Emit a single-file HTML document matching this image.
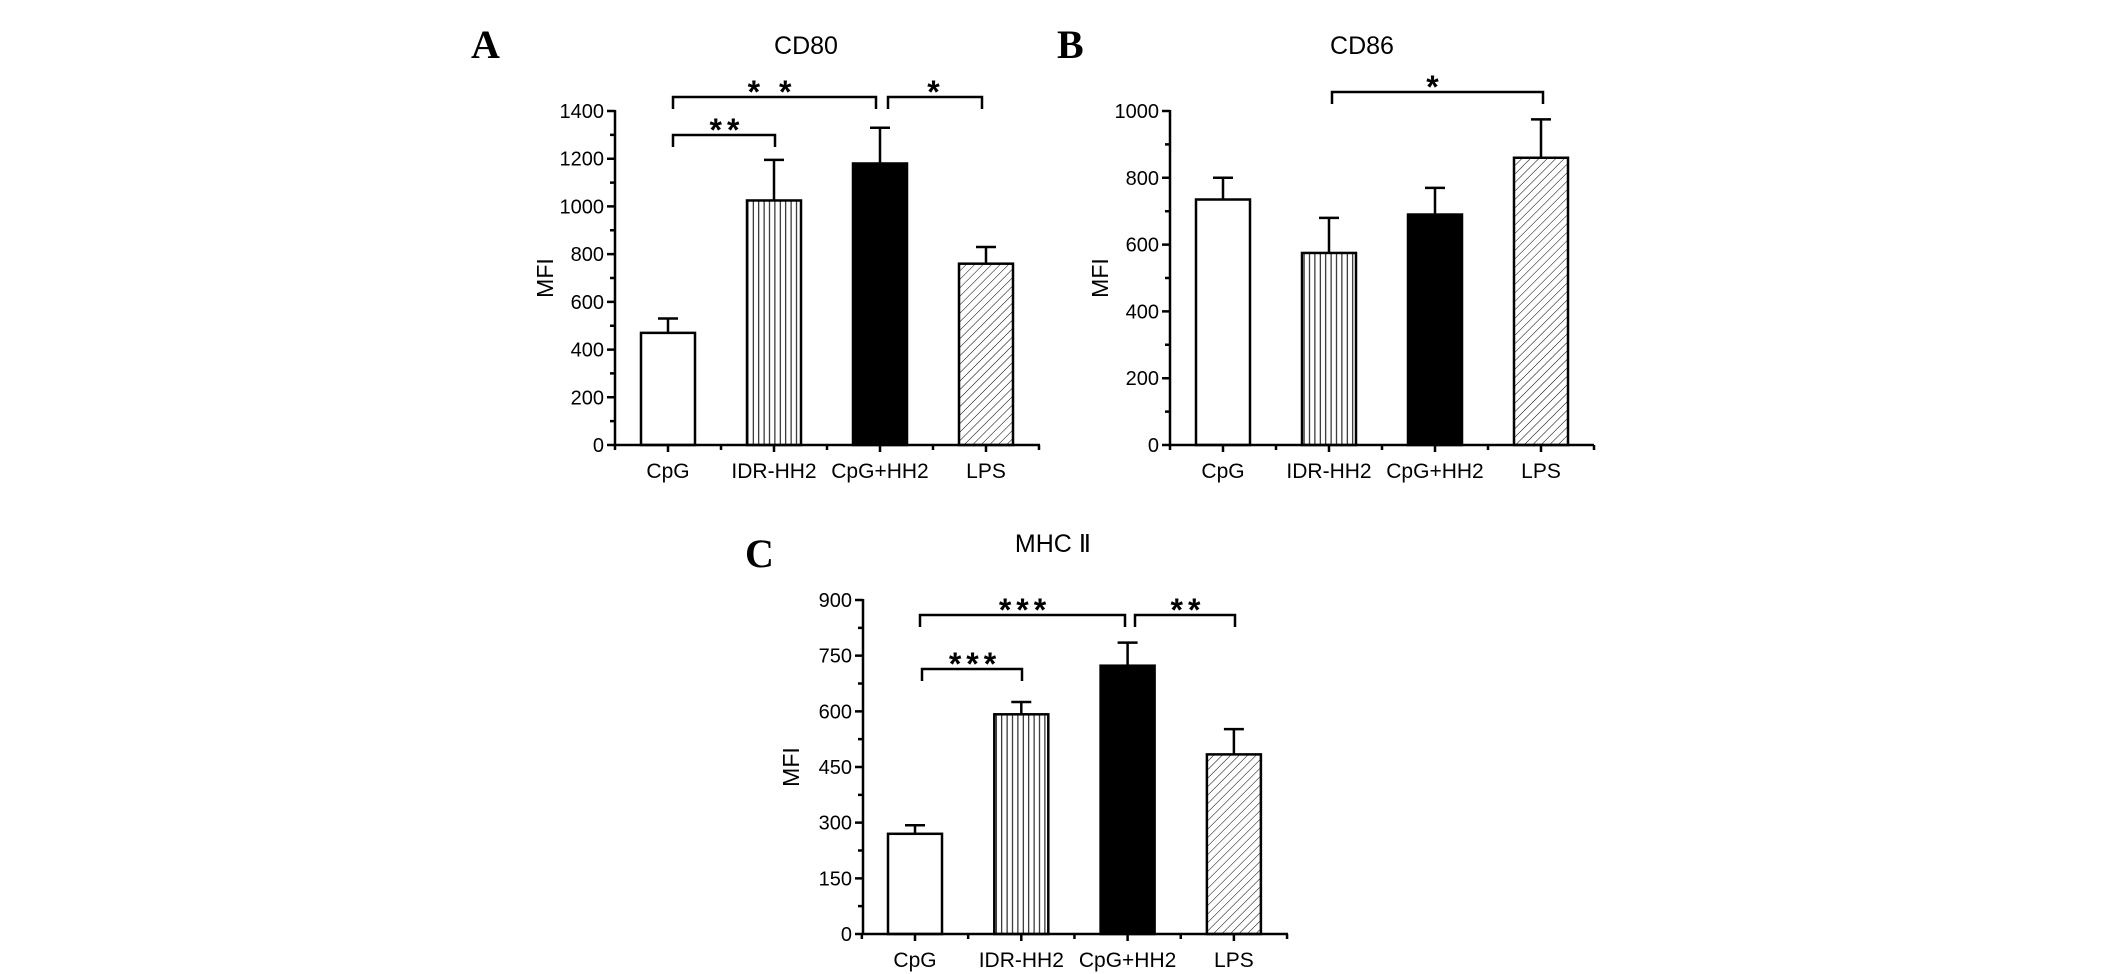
<!DOCTYPE html>
<html><head><meta charset="utf-8"><style>
html,body{margin:0;padding:0;background:#fff;}
svg{display:block;font-family:"Liberation Sans",Arial,sans-serif;}
</style></head><body>
<svg id="fig" width="2126" height="974" viewBox="0 0 2126 974" xmlns="http://www.w3.org/2000/svg">
<defs>
<pattern id="vert" patternUnits="userSpaceOnUse" width="5.4" height="10"><line x1="2.7" y1="0" x2="2.7" y2="10" stroke="#000" stroke-width="1"/></pattern>
<pattern id="diag" patternUnits="userSpaceOnUse" width="6" height="6" patternTransform="rotate(45)"><line x1="0" y1="0" x2="0" y2="6" stroke="#000" stroke-width="1"/></pattern>
</defs>
<text x="471" y="58" font-family="Liberation Serif,serif" font-weight="bold" font-size="40">A</text>
<text x="1057" y="58" font-family="Liberation Serif,serif" font-weight="bold" font-size="40">B</text>
<text x="745" y="567" font-family="Liberation Serif,serif" font-weight="bold" font-size="40">C</text>
</svg>
<script>
const categories = ["CpG","IDR-HH2","CpG+HH2","LPS"];
const cd80Values = [470, 1025, 1180, 760];
const cd80Errors = [530, 1195, 1330, 830];
const cd80Ticks = [0,200,400,600,800,1000,1200,1400];
const cd86Values = [735, 575, 690, 860];
const cd86Errors = [800, 680, 770, 975];
const cd86Ticks = [0,200,400,600,800,1000];
const mhcValues = [270, 592, 723, 484];
const mhcErrors = [293, 625, 785, 552];
const mhcTicks = [0,150,300,450,600,750,900];
const cd80Sig = [{a:0,b:1,s:"**"},{a:0,b:2,s:"* *"},{a:2,b:3,s:"*"}];
const cd86Sig = [{a:1,b:3,s:"*"}];
const mhcSig = [{a:0,b:1,s:"***"},{a:0,b:2,s:"***"},{a:2,b:3,s:"**"}];

const NS = "http://www.w3.org/2000/svg";
const svg = document.getElementById('fig');
const fills = ["#fff","url(#vert)","#000","url(#diag)"];
function mk(tag, attrs, parent){
  const e = document.createElementNS(NS, tag);
  for (const k in attrs) e.setAttribute(k, attrs[k]);
  (parent||svg).appendChild(e); return e;
}
function panel(cfg){
  const g = mk('g', {});
  
  
  const yMax = cfg.ticks[cfg.ticks.length-1];
  const y = v => cfg.y0 - (v / yMax) * (cfg.y0 - cfg.yTop);
  const x = i => cfg.c0 + i * cfg.step;
  const t = mk('text', {x: cfg.titleX, y: cfg.titleY, 'font-size': 25, 'text-anchor': 'middle'}, g);
  t.textContent = cfg.title;
  
  
  const yl = mk('text', {x: cfg.mfiX, y: (cfg.y0+cfg.yTop)/2, 'font-size': 23, 'text-anchor': 'middle', transform: `rotate(-90 ${cfg.mfiX} ${(cfg.y0+cfg.yTop)/2})`}, g);
  yl.textContent = 'MFI';
  
  
  categories.forEach((c, i) => {
    const cx = x(i), top = y(cfg.values[i]), et = y(cfg.errors[i]);
    const eb = mk('path', {d: `M${cx} ${top} V${et} M${cx-10} ${et} H${cx+10}`, stroke: '#000', 'stroke-width': 2.5, fill: 'none'}, g);
    
    
    const r = mk('rect', {x: cx-27, y: top, width: 54, height: cfg.y0-top, fill: fills[i], stroke: '#000', 'stroke-width': 2.5}, g);
    
    
    const lb = mk('text', {x: cx, y: cfg.y0 + 33, 'font-size': 21, 'text-anchor': 'middle'}, g);
    lb.textContent = c;
    
    
  });
  let d = `M${cfg.ax} ${cfg.yTop-1} V${cfg.y0} H${cfg.xEnd}`;
  cfg.ticks.forEach((v, k) => {
    d += ` M${cfg.ax-8} ${y(v)} H${cfg.ax}`;
    if (k < cfg.ticks.length-1) d += ` M${cfg.ax-5} ${(y(v)+y(cfg.ticks[k+1]))/2} H${cfg.ax}`;
    const tl = mk('text', {x: cfg.ax-11, y: y(v)+7, 'font-size': 20, 'text-anchor': 'end'}, g);
    tl.textContent = v;
    
    
  });
  for (let i = 0; i < categories.length; i++) {
    d += ` M${x(i)} ${cfg.y0} V${cfg.y0+7}`;
    d += ` M${x(i)+cfg.step/2} ${cfg.y0} V${cfg.y0+5}`;
  }
  d += ` M${x(0)-cfg.step/2} ${cfg.y0} V${cfg.y0+5}`;
  const ax = mk('path', {d, stroke: '#000', 'stroke-width': 2.5, fill: 'none'}, g);
  
  
  cfg.sig.forEach((s, k) => {
    const b = cfg.br[k];
    const br = mk('path', {d: `M${b.x1} ${b.y+12} V${b.y} H${b.x2} V${b.y+12}`, stroke: '#000', 'stroke-width': 2.5, fill: 'none'}, g);
    
    
    const st = mk('text', {x: b.sx, y: b.y+6, 'font-size': 32, 'font-weight': 'bold', 'letter-spacing': 5, 'text-anchor': 'middle'}, g);
    st.textContent = s.s;
    
    
  });
}
panel({name:'cd80-chart', title:'CD80', titleX:806, titleY:54, values:cd80Values, errors:cd80Errors, ticks:cd80Ticks,
  ax:615, y0:445, yTop:111, xEnd:1040, c0:668, step:106, mfiX:553, sig:cd80Sig,
  br:[{x1:673,x2:775,y:135,sx:727},{x1:673,x2:876,y:97,sx:772},{x1:888,x2:982,y:97,sx:936}]});
panel({name:'cd86-chart', title:'CD86', titleX:1362, titleY:54, values:cd86Values, errors:cd86Errors, ticks:cd86Ticks,
  ax:1170, y0:445, yTop:111, xEnd:1594, c0:1223, step:106, mfiX:1108, sig:cd86Sig,
  br:[{x1:1332,x2:1543,y:92,sx:1435}]});
panel({name:'mhc-ii-chart', title:'MHC \u2161', titleX:1053, titleY:552, values:mhcValues, errors:mhcErrors, ticks:mhcTicks,
  ax:863, y0:934, yTop:600, xEnd:1288, c0:915, step:106.3, mfiX:799, sig:mhcSig,
  br:[{x1:922,x2:1022,y:669,sx:975},{x1:920,x2:1125,y:615,sx:1025},{x1:1135,x2:1235,y:615,sx:1188}]});
</script>
</body></html>
